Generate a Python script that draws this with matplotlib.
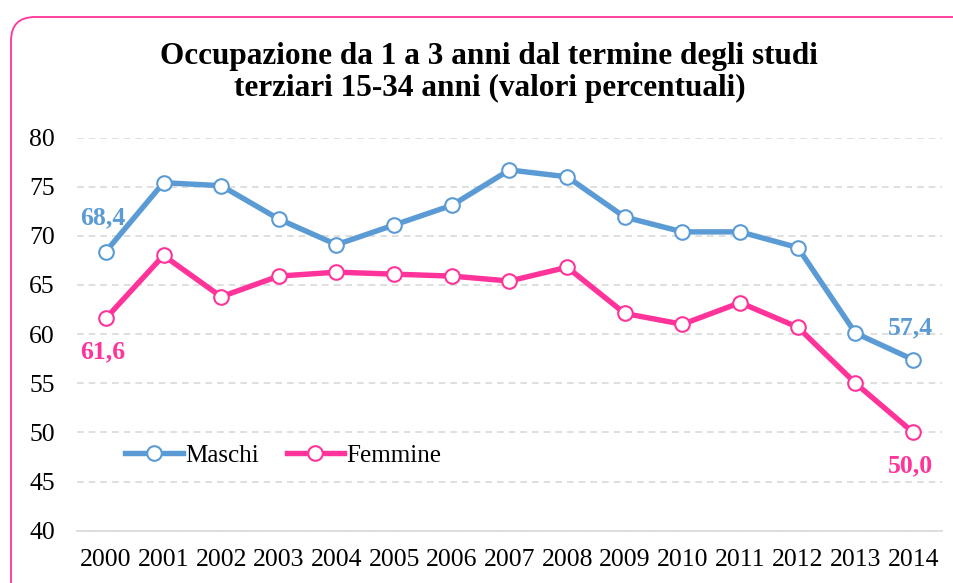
import matplotlib.pyplot as plt
from matplotlib.patches import FancyBboxPatch

years = ['2000', '2001', '2002', '2003', '2004', '2005', '2006', '2007',
         '2008', '2009', '2010', '2011', '2012', '2013', '2014']
maschi = [68.4, 75.4, 75.1, 71.7, 69.1, 71.1, 73.1, 76.7,
          76.0, 71.9, 70.4, 70.4, 68.8, 60.1, 57.4]
femmine = [61.6, 68.0, 63.8, 65.9, 66.3, 66.1, 65.9, 65.4,
           66.8, 62.1, 61.0, 63.2, 60.7, 55.0, 50.0]

blue = '#5B9BD5'
pink = '#FF3399'

plt.rcParams['font.family'] = ['Liberation Serif', 'DejaVu Serif']

fig = plt.figure(figsize=(9.54, 5.83), dpi=100)

# rounded pink frame, only top-left corner visible
W, H = 954, 583
frame = FancyBboxPatch((11 / W, -0.3), 1.3, 1.3 - 17 / H,
                       boxstyle='round,pad=0,rounding_size=0.025',
                       transform=fig.transFigure, facecolor='none', edgecolor=pink,
                       linewidth=1.3, mutation_aspect=W / H)
frame.set_clip_on(False)
fig.patches.append(frame)

ax = fig.add_axes([77 / W, 1 - 530.7 / H, (942 - 77) / W, (530.7 - 137.5) / H])

x = list(range(len(years)))
ax.plot(x, maschi, color=blue, lw=3.9, marker='o', ms=10.5, mfc='white',
        mec=blue, mew=1.5, label='Maschi', solid_joinstyle='round')
ax.plot(x, femmine, color=pink, lw=3.9, marker='o', ms=10.5, mfc='white',
        mec=pink, mew=1.5, label='Femmine', solid_joinstyle='round')

ax.set_xlim(-0.5, len(years) - 0.5)
ax.set_ylim(40, 80)
ax.set_yticks(range(40, 81, 5))
ax.set_xticks(x)
ax.set_xticklabels(years)
ax.tick_params(length=0, labelsize=18.5)
ax.tick_params(axis='x', pad=13)
ax.tick_params(axis='y', pad=16)
ax.grid(axis='y', color='#D9D9D9', linestyle=(0, (4, 3)), lw=1.2)
for s in ['top', 'right', 'left']:
    ax.spines[s].set_visible(False)
ax.spines['bottom'].set_color('#D9D9D9')
ax.spines['bottom'].set_linewidth(1.2)

lab = dict(fontsize=18.5, fontweight='bold', ha='center', va='center')
ax.text(-0.05, maschi[0] + 3.45, '68,4', color=blue, **lab)
ax.text(-0.05, femmine[0] - 3.45, '61,6', color=pink, **lab)
ax.text(13.95, maschi[-1] + 3.25, '57,4', color=blue, **lab)
ax.text(13.95, femmine[-1] - 3.35, '50,0', color=pink, **lab)

ax.legend(loc='center left', bbox_to_anchor=(0.03, 0.19), ncol=2, frameon=False,
          fontsize=18, handlelength=2.3, handletextpad=0.1, columnspacing=1.1)

fig.text(0.513, 0.876, 'Occupazione da 1 a 3 anni dal termine degli studi\nterziari 15-34 anni (valori percentuali)',
         ha='center', va='center', fontsize=22.5, fontweight='bold', linespacing=1.15)

fig.savefig('out.png', dpi=100)
